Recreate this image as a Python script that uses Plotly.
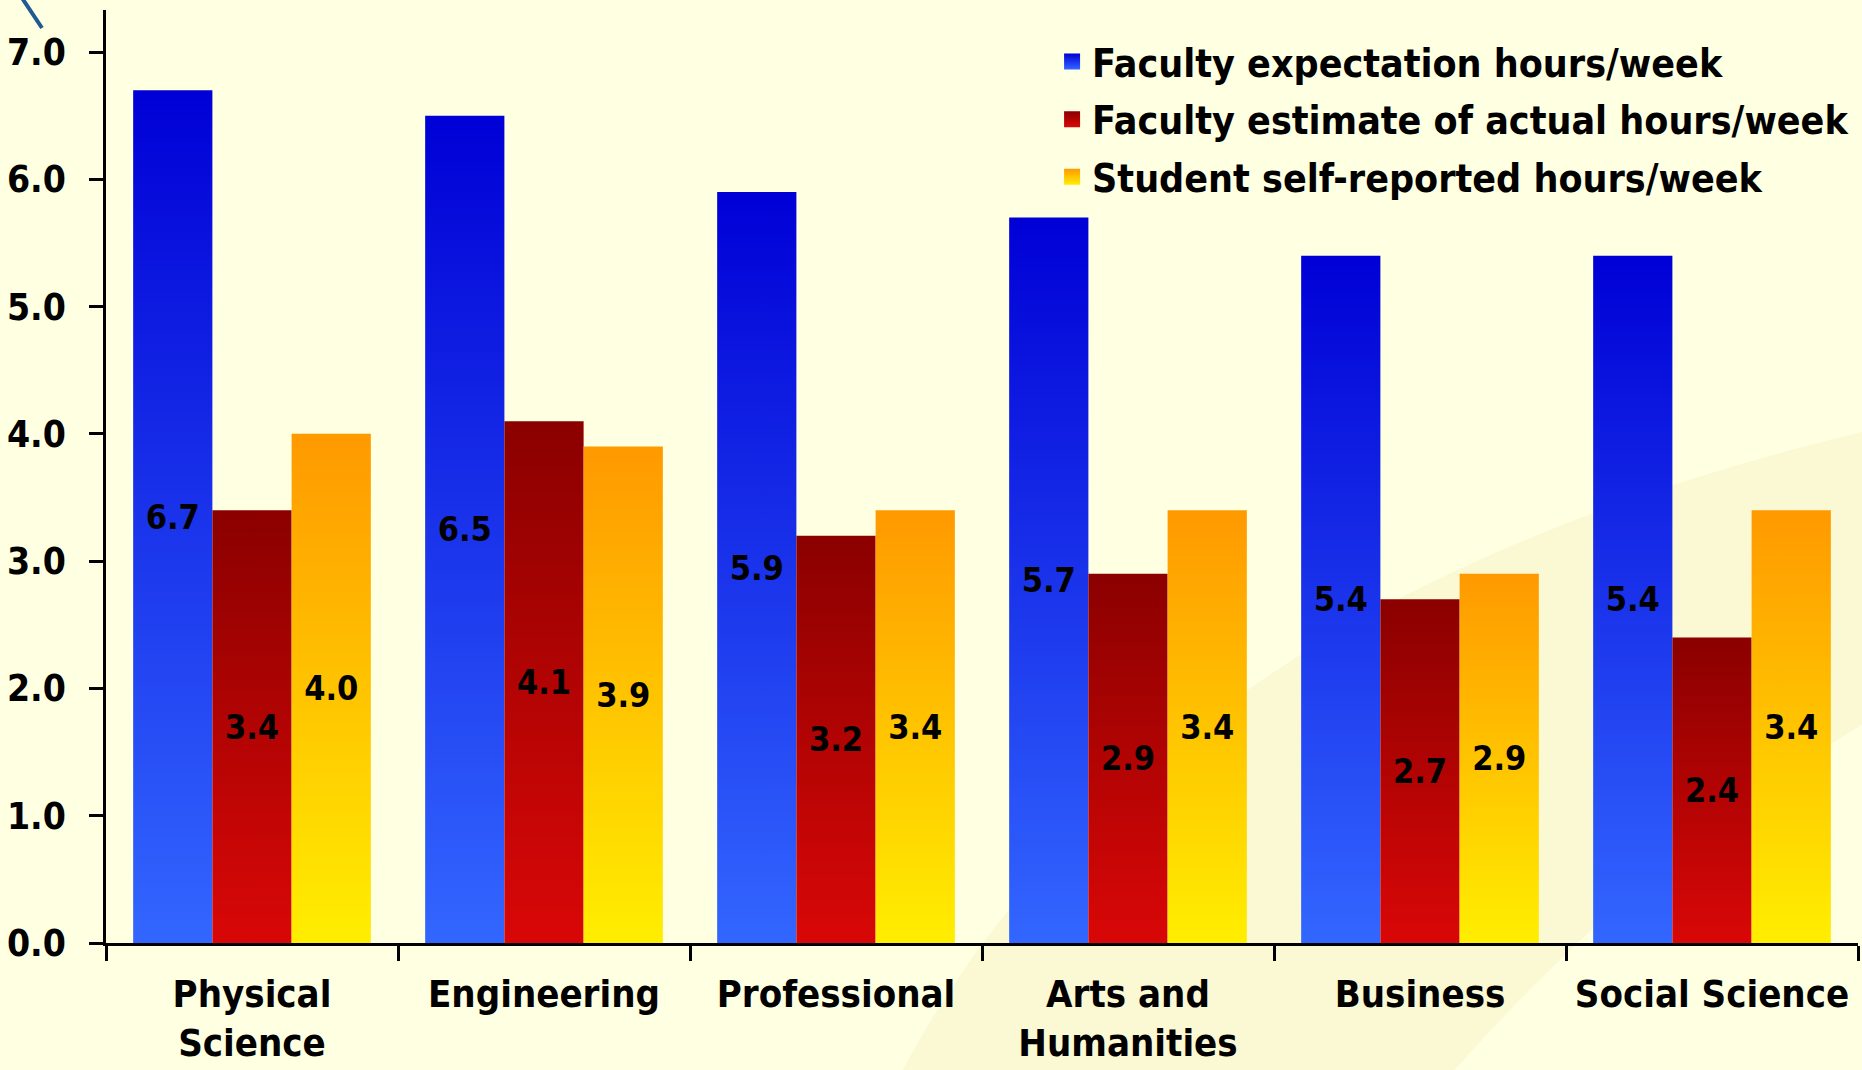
import plotly.graph_objects as go

# ---------------- data ----------------
categories = ["Physical<br>Science", "Engineering", "Professional",
              "Arts and<br>Humanities", "Business", "Social Science"]
series_names = ["Faculty expectation hours/week",
                "Faculty estimate of actual hours/week",
                "Student self-reported hours/week"]
faculty_expectation = [6.7, 6.5, 5.9, 5.7, 5.4, 5.4]
faculty_estimate = [3.4, 4.1, 3.2, 2.9, 2.7, 2.4]
student_reported = [4.0, 3.9, 3.4, 3.4, 2.9, 3.4]
y_tick_values = [0, 1, 2, 3, 4, 5, 6, 7]

# ---------------- style ----------------
series_values = [faculty_expectation, faculty_estimate, student_reported]
grad_top = ["#0000D6", "#8B0000", "#FF9900"]
grad_bottom = ["#3366FF", "#D90707", "#FFEE00"]
BG = "#FFFFE1"
FONT = "DejaVu Sans Condensed, DejaVu Sans, sans-serif"
BARGAP = 0.186
n_series = len(series_values)
bar_w = (1 - BARGAP) / n_series

fig = go.Figure()

# gradient-filled bar bodies on the numeric x axis (positions derived from data)
for k, vals in enumerate(series_values):
    for i, v in enumerate(vals):
        x0 = i - (1 - BARGAP) / 2 + k * bar_w
        x1 = x0 + bar_w
        fig.add_trace(go.Scatter(
            x=[x0, x1, x1, x0, x0], y=[0, 0, v, v, 0],
            mode="lines", fill="toself",
            line=dict(width=0, color=grad_top[k]),
            fillgradient=dict(type="vertical",
                              colorscale=[[0, grad_bottom[k]], [1, grad_top[k]]]),
            hoverinfo="skip", showlegend=False, xaxis="x", yaxis="y"))

# legend entries
for k, name in enumerate(series_names):
    fig.add_trace(go.Scatter(
        x=[None], y=[None], mode="markers", name=name,
        legendgroup=f"g{k}",
        marker=dict(symbol="square", size=16, color=grad_top[k],
                    gradient=dict(type="vertical", color=grad_bottom[k]),
                    line=dict(width=0)),
        xaxis="x", yaxis="y"))

# real bar traces (transparent fill) carrying the value labels, on category axis
for k, vals in enumerate(series_values):
    fig.add_trace(go.Bar(
        x=categories, y=vals, name=series_names[k], showlegend=False,
        marker=dict(color="rgba(0,0,0,0)", line=dict(width=0)),
        texttemplate="%{y:.1f}", textposition="inside",
        insidetextanchor="middle", textangle=0, constraintext="none",
        textfont=dict(family=FONT, size=34, color="black", weight="bold"),
        hoverinfo="skip", xaxis="x2", yaxis="y"))

# background decoration: faint swoosh and small blue stroke
def px2paper(px, py):
    return (px - 106) / 1752, (943 - py) / 933

o0, o1, o2 = px2paper(900, 1075), px2paper(1150, 600), px2paper(1870, 430)
i0, i1, i2 = px2paper(1870, 720), px2paper(1650, 850), px2paper(1450, 1075)
path = (f"M {o0[0]},{o0[1]} Q {o1[0]},{o1[1]} {o2[0]},{o2[1]} "
        f"L {i0[0]},{i0[1]} Q {i1[0]},{i1[1]} {i2[0]},{i2[1]} Z")
fig.add_shape(type="path", path=path, xref="paper", yref="paper",
              fillcolor="rgba(225,205,140,0.15)", line=dict(width=0), layer="below")
sx0, sy0 = px2paper(22, -2)
sx1, sy1 = px2paper(42, 28)
fig.add_shape(type="line", x0=sx0, y0=sy0, x1=sx1, y1=sy1, xref="paper", yref="paper",
              line=dict(color="#1F5A94", width=4), layer="above")

tick_font = dict(family=FONT, size=37, color="black", weight="bold")
cat_font = dict(family=FONT, size=38, color="black", weight="bold")

fig.update_layout(
    width=1862, height=1070,
    margin=dict(l=106, r=4, t=10, b=127, autoexpand=False),
    paper_bgcolor=BG, plot_bgcolor=BG,
    barmode="group", bargap=BARGAP, bargroupgap=0,
    showlegend=True,
    legend=dict(x=0.54, y=0.979, xanchor="left", yanchor="top",
                font=dict(family=FONT, size=39, color="black", weight="bold"),
                bgcolor="rgba(0,0,0,0)", itemsizing="trace",
                tracegroupgap=4, traceorder="grouped"),
    xaxis=dict(range=[-0.5, 5.5], tickmode="array",
               tickvals=[-0.5, 0.5, 1.5, 2.5, 3.5, 4.5, 5.5],
               showticklabels=False, ticks="outside", ticklen=15, tickwidth=2.5,
               tickcolor="black", showline=True, linecolor="black", linewidth=2.5,
               showgrid=False, zeroline=False, fixedrange=True, automargin=False),
    xaxis2=dict(overlaying="x", anchor="y", side="bottom", type="category",
                range=[-0.5, 5.5], showline=False, showgrid=False, zeroline=False,
                ticks="", tickfont=cat_font, ticklabelstandoff=25, fixedrange=True,
                automargin=False),
    yaxis=dict(range=[0, 7.33], tickmode="array", tickvals=y_tick_values,
               tickformat=".1f", tickfont=tick_font, ticks="outside", ticklen=14,
               tickwidth=2.5, tickcolor="black", showline=True, linecolor="black",
               linewidth=2.5, showgrid=False, zeroline=False,
               ticklabelstandoff=16, fixedrange=True, automargin=False),
)

fig.write_html("out.html", config={"displayModeBar": False},
               post_script="document.body.style.margin='0';document.body.style.overflow='hidden';")
